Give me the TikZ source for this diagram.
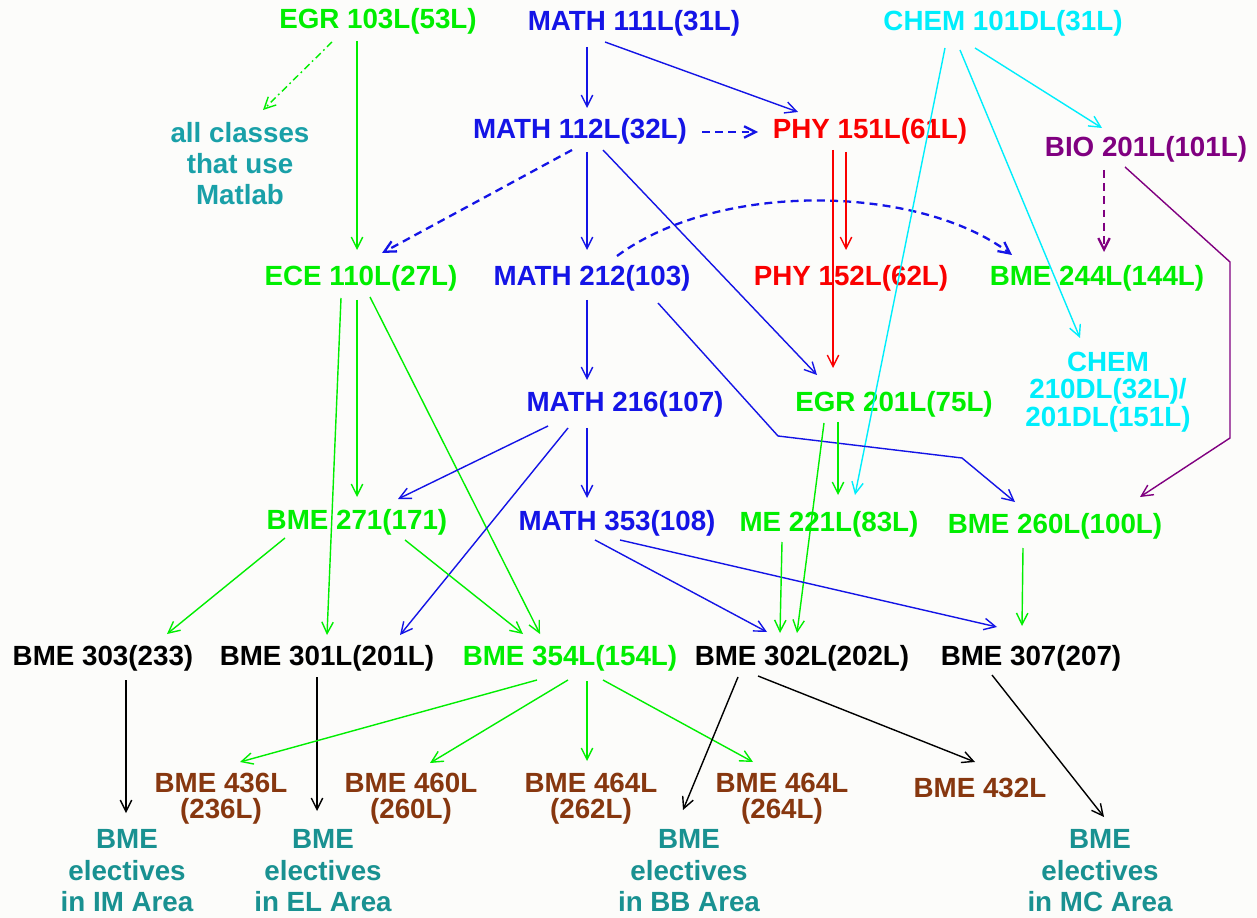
\documentclass[tikz,border=0pt]{standalone}
\usepackage{fontspec}
\setmainfont{Liberation Sans}
\usetikzlibrary{arrows.meta,calc}

\definecolor{cgreen}{RGB}{0,238,0}
\definecolor{cblue}{RGB}{20,20,230}
\definecolor{ccyan}{RGB}{0,238,252}
\definecolor{cred}{RGB}{250,0,0}
\definecolor{cpurple}{RGB}{128,0,128}
\definecolor{cbrown}{RGB}{135,55,15}
\definecolor{cteal}{RGB}{25,145,145}
\definecolor{cmatlab}{RGB}{25,160,168}
\definecolor{cpaper}{RGB}{252,252,250}

\tikzset{
  course/.style={font=\fontsize{15.8}{18}\selectfont\bfseries, inner sep=1pt, align=center},
  twoline/.style={course, cbrown, font=\fontsize{15.8}{15}\selectfont\bfseries},
  elective/.style={course, cteal, font=\fontsize{15.8}{17.9}\selectfont\bfseries},
  req/.style={-{Straight Barb[length=6.5pt,width=6.5pt]}, line width=0.8pt},
  coreq/.style={req, line width=1.3pt, dash pattern=on 4.5pt off 3pt},
}

\begin{document}
\begin{tikzpicture}[x=0.02cm,y=-0.02cm]
\fill[cpaper] (0,0) rectangle (1257,918);
\useasboundingbox (0,0) rectangle (1257,918);

\node[course,cgreen] (egr103) at (378,21) {EGR 103L(53L)};
\node[course,cblue] (m111) at (634,23) {MATH 111L(31L)};
\node[course,ccyan] (chem101) at (1003,23) {CHEM 101DL(31L)};
\node[course,cmatlab,font=\fontsize{15.8}{17.6}\selectfont\bfseries] (matlab) at (240,164) {all classes\\that use\\Matlab};
\node[course,cblue] (m112) at (580,131) {MATH 112L(32L)};
\node[course,cred] (phy151) at (870,131) {PHY 151L(61L)};
\node[course,cpurple] (bio201) at (1146,149) {BIO 201L(101L)};
\node[course,cgreen] (ece110) at (361,278) {ECE 110L(27L)};
\node[course,cblue] (m212) at (592,278) {MATH 212(103)};
\node[course,cred] (phy152) at (851,278) {PHY 152L(62L)};
\node[course,cgreen] (bme244) at (1097,278) {BME 244L(144L)};
\node[course,cblue] (m216) at (625,404) {MATH 216(107)};
\node[course,cgreen] (egr201) at (894,404) {EGR 201L(75L)};
\node[course,ccyan,font=\fontsize{15.8}{15.6}\selectfont\bfseries] (chem210) at (1108,392) {CHEM\\210DL(32L)/\\201DL(151L)};
\node[course,cgreen] (bme271) at (357,522) {BME 271(171)};
\node[course,cblue] (m353) at (617,523) {MATH 353(108)};
\node[course,cgreen] (me221) at (829,524) {ME 221L(83L)};
\node[course,cgreen] (bme260) at (1055,526) {BME 260L(100L)};
\node[course] (bme303) at (103,658) {BME 303(233)};
\node[course] (bme301) at (327,658) {BME 301L(201L)};
\node[course,cgreen] (bme354) at (570,658) {BME 354L(154L)};
\node[course] (bme302) at (802,658) {BME 302L(202L)};
\node[course] (bme307) at (1031,658) {BME 307(207)};
\node[twoline] (bme436) at (221,799) {BME 436L\\(236L)};
\node[twoline] (bme460) at (411,799) {BME 460L\\(260L)};
\node[twoline] (bme464a) at (591,799) {BME 464L\\(262L)};
\node[twoline] (bme464b) at (782,799) {BME 464L\\(264L)};
\node[course,cbrown] (bme432) at (980,788) {BME 432L};
\node[elective] (elecIM) at (127,871) {BME\\electives\\in IM Area};
\node[elective] (elecEL) at (323,871) {BME\\electives\\in EL Area};
\node[elective] (elecBB) at (689,871) {BME\\electives\\in BB Area};
\node[elective] (elecMC) at (1100,871) {BME\\electives\\in MC Area};

\draw[req,cgreen,dash pattern=on 4pt off 2pt on 1pt off 2pt] ($(egr103)+(-46,21)$) -- ($(matlab)+(23,-54)$);
\draw[req,cgreen] ($(egr103)+(-21,20)$) -- ($(ece110)+(-4,-28)$);
\draw[req,cblue] ($(m111)+(-47,24)$) -- ($(m112)+(7,-23)$);
\draw[req,cblue] ($(m111)+(-29,19)$) -- ($(phy151)+(-72,-19)$);
\draw[coreq,cblue] ($(m112)+(122,1)$) -- ($(phy151)+(-112,1)$);
\draw[coreq,cblue] ($(m112)+(-8,19)$) -- ($(ece110)+(21,-25)$);
\draw[req,cblue] ($(m112)+(7,21)$) -- ($(m212)+(-5,-28)$);
\draw[req,cblue] ($(m112)+(23,19)$) -- ($(egr201)+(-77,-29)$);
\draw[coreq,cblue] ($(m212)+(25,-22)$) .. controls +(103,-76) and +(-92,-70) .. ($(bme244)+(-85,-23)$);
\draw[req,cred] ($(phy151)+(-24,21)$) -- ($(phy152)+(-5,-28)$);
\draw[req,cred] ($(phy151)+(-37,19)$) -- ($(egr201)+(-61,-36)$);
\draw[req,ccyan] ($(chem101)+(-58,25)$) -- ($(me221)+(26,-29)$);
\draw[req,ccyan] ($(chem101)+(-43,27)$) -- ($(chem210)+(-28,-54)$);
\draw[req,ccyan] ($(chem101)+(-28,25)$) -- ($(bio201)+(-44,-21)$);
\draw[coreq,cpurple] ($(bio201)+(-42,21)$) -- ($(bme244)+(7,-26)$);
\draw[req,cpurple] ($(bio201)+(-21,18)$) -- ++(105,95) -- ++(0,176) -- ($(bme260)+(85,-29)$);
\draw[req,cblue] ($(m212)+(-5,22)$) -- ($(m216)+(-38,-24)$);
\draw[req,cblue] ($(m212)+(66,25)$) -- ++(120,133) -- ++(184,22) -- ($(bme260)+(-40,-24)$);
\draw[req,cgreen] ($(ece110)+(-4,22)$) -- ($(bme271)+(0,-25)$);
\draw[req,cgreen] ($(ece110)+(-20,20)$) -- ($(bme301)+(0,-23)$);
\draw[req,cgreen] ($(ece110)+(9,19)$) -- ($(bme354)+(-30,-24)$);
\draw[req,cgreen] ($(egr201)+(-56,18)$) -- ($(me221)+(9,-29)$);
\draw[req,cgreen] ($(egr201)+(-70,19)$) -- ($(bme302)+(-5,-25)$);
\draw[req,cblue] ($(m216)+(-38,24)$) -- ($(m353)+(-30,-25)$);
\draw[req,cblue] ($(m216)+(-77,22)$) -- ($(bme271)+(41,-23)$);
\draw[req,cblue] ($(m216)+(-57,24)$) -- ($(bme301)+(73,-23)$);
\draw[req,cgreen] ($(bme271)+(-72,16)$) -- ($(bme303)+(64,-24)$);
\draw[req,cgreen] ($(bme271)+(48,18)$) -- ($(bme354)+(-47,-24)$);
\draw[req,cblue] ($(m353)+(-22,17)$) -- ($(bme302)+(-35,-26)$);
\draw[req,cblue] ($(m353)+(3,17)$) -- ($(bme307)+(-34,-31)$);
\draw[req,cgreen] ($(me221)+(-47,18)$) -- ($(bme302)+(-22,-25)$);
\draw[req,cgreen] ($(bme260)+(-32,22)$) -- ($(bme307)+(-9,-32)$);
\draw[req] ($(bme303)+(23,22)$) -- ($(elecIM)+(-1,-58)$);
\draw[req] ($(bme301)+(-10,19)$) -- ($(elecEL)+(-6,-60)$);
\draw[req,cgreen] ($(bme354)+(-33,22)$) -- ($(bme436)+(19,-37)$);
\draw[req,cgreen] ($(bme354)+(-2,22)$) -- ($(bme460)+(19,-36)$);
\draw[req,cgreen] ($(bme354)+(17,23)$) -- ($(bme464a)+(-4,-38)$);
\draw[req,cgreen] ($(bme354)+(33,22)$) -- ($(bme464b)+(-29,-37)$);
\draw[req] ($(bme302)+(-64,19)$) -- ($(elecBB)+(-6,-61)$);
\draw[req] ($(bme302)+(-44,18)$) -- ($(bme432)+(-5,-26)$);
\draw[req] ($(bme307)+(-39,17)$) -- ($(elecMC)+(4,-54)$);
\end{tikzpicture}
\end{document}
